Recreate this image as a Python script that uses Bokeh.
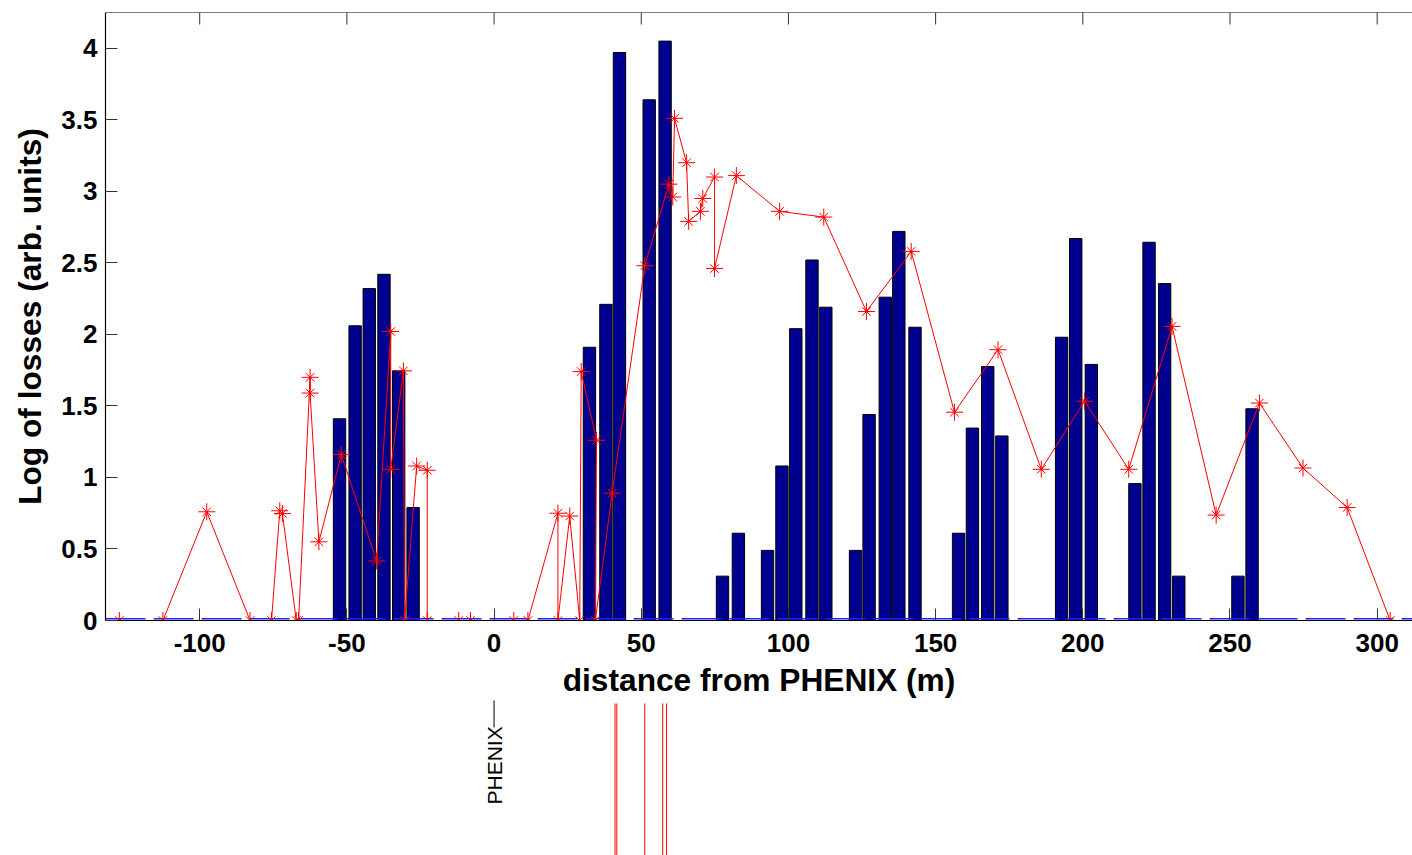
import numpy as np
from bokeh.plotting import figure
from bokeh.models import Range1d, FixedTicker, Span
from bokeh.layouts import column
from bokeh.embed import file_html
from bokeh.resources import INLINE
from bokeh.core.properties import value

# ---------------- data ----------------
bar_pos = [-52.5, -47.2, -42.4, -37.4, -32.4, -27.5,
           32.4, 38.0, 42.6, 52.7, 58.1,
           77.6, 83.0, 92.9, 97.8, 102.5, 108.0, 112.7,
           122.8, 127.4, 132.9, 137.5, 143.0,
           157.8, 162.5, 167.7, 172.5,
           192.8, 197.6, 202.9,
           217.7, 222.5, 227.8, 232.6,
           252.7, 257.5]
bar_val = [1.41, 2.06, 2.32, 2.42, 1.745, 0.79,
           1.91, 2.21, 3.97, 3.64, 4.05,
           0.31, 0.61, 0.49, 1.08, 2.04, 2.52, 2.19,
           0.49, 1.44, 2.26, 2.72, 2.05,
           0.61, 1.345, 1.775, 1.29,
           1.98, 2.67, 1.79,
           0.957, 2.644, 2.355, 0.31,
           0.31, 1.48]

loss_pos = [-127.3, -112.5, -97.6, -82.9, -75.6, -72.8, -71.9, -67.2, -66.4,
            -62.5, -62.5, -59.5, -51.9, -39.9, -35.1, -35.1, -30.8, -30.4,
            -26.3, -22.7, -22.7, -12.0, -8.0, 6.7, 11.5, 21.7, 21.7, 25.7,
            29.1, 29.6, 34.8, 34.4, 40.1, 51.2, 59.4, 60.7, 61.3, 65.4, 66.1,
            70.1, 70.9, 74.9, 74.9, 82.3, 97.0, 112.0, 126.5, 141.7, 156.4,
            171.2, 185.9, 200.6, 215.6, 230.3, 245.3, 260.0, 274.8, 289.8, 304.4]
loss_val = [0, 0, 0.76, 0, 0, 0.767, 0.748, 0, 0,
            1.70, 1.59, 0.55, 1.16, 0.416, 2.02, 1.057, 1.745, 0,
            1.08, 1.05, 0, 0, 0, 0, 0, 0.75, 0, 0.73,
            0, 1.74, 1.26, 0, 0.89, 2.48, 3.05, 2.96, 3.51, 3.20, 2.79,
            2.86, 2.95, 3.10, 2.46, 3.11, 2.86, 2.82, 2.16, 2.58, 1.456,
            1.893, 1.057, 1.533, 1.057, 2.056, 0.737, 1.52, 1.066, 0.79, 0]

marker_pos = [41.1, 41.7, 51.2, 57.3, 58.6]
phenix_pos = [0]
phenix_label = ["PHENIX"]

x_ticks = [-100, -50, 0, 50, 100, 150, 200, 250, 300]
x_tick_labels = ["-100", "-50", "0", "50", "100", "150", "200", "250", "300"]
y_ticks = [0, 0.5, 1, 1.5, 2, 2.5, 3, 3.5, 4]
y_tick_labels = ["0", "0.5", "1", "1.5", "2", "2.5", "3", "3.5", "4"]

X_START, X_END = -132, 312
Y_START, Y_END = 0, 4.25
FONT = "Liberation Sans"

# ---------------- main plot ----------------
p = figure(width=1412, height=700,
           x_range=Range1d(X_START, X_END), y_range=Range1d(Y_START, Y_END),
           output_backend="svg", toolbar_location=None,
           min_border_left=105, min_border_right=0,
           min_border_top=12, min_border_bottom=78)
p.outline_line_color = None
p.grid.visible = False
p.background_fill_color = "white"
p.border_fill_color = "white"

p.vbar(x=bar_pos, top=bar_val, bottom=0, width=4.2,
       fill_color="#000090", line_color="black", line_width=1)
p.line(x=[X_START, X_END], y=[0.012, 0.012], line_color="#2020FF",
       line_width=1.5, line_dash="40 8")
p.line(x=loss_pos, y=loss_val, line_color="red", line_width=1)
# MATLAB-style '*' marker: plus + diagonal cross
p.scatter(x=loss_pos, y=loss_val, marker="cross", size=17,
          line_color="red", line_width=1)
p.scatter(x=loss_pos, y=loss_val, marker="x", size=12,
          line_color="red", line_width=1)

# top frame line and inward ticks (box on)
p.add_layout(Span(location=Y_END, dimension="width",
                  line_color="black", line_width=1.2))
p.ray(x=x_ticks, y=[Y_END] * len(x_ticks), length=12, length_units="screen",
      angle=-np.pi / 2, line_color="#333333", line_width=1)

for ax in (p.xaxis[0], p.yaxis[0]):
    ax.major_tick_in = 12
    ax.major_tick_out = 0
    ax.minor_tick_line_color = None
    ax.axis_line_color = "black"
    ax.axis_line_width = 1.2
    ax.major_tick_line_color = "#333333"
    ax.major_label_text_font = FONT
    ax.major_label_text_font_style = "bold"
    ax.major_label_text_font_size = "26px"
    ax.major_label_text_color = "black"
    ax.axis_label_text_font = FONT
    ax.axis_label_text_font_style = "bold"
    ax.axis_label_text_font_size = "31.7px"
    ax.axis_label_text_color = "black"

p.xaxis.ticker = FixedTicker(ticks=x_ticks)
p.xaxis.major_label_overrides = dict(zip(x_ticks, x_tick_labels))
p.xaxis.axis_label = "distance from PHENIX (m)"
p.xaxis.major_label_standoff = 13
p.xaxis.axis_label_standoff = 7

p.yaxis.ticker = FixedTicker(ticks=y_ticks)
p.yaxis.major_label_overrides = dict(zip(y_ticks, y_tick_labels))
p.yaxis.axis_label = "Log of losses (arb. units)"
p.yaxis.major_label_standoff = 8
p.yaxis.axis_label_standoff = 10

# ---------------- lower strip (element positions) ----------------
q = figure(width=1412, height=155, x_range=p.x_range, y_range=Range1d(0, 155),
           output_backend="svg", toolbar_location=None,
           min_border_left=105, min_border_right=0,
           min_border_top=0, min_border_bottom=0,
           x_axis_location=None, y_axis_location=None)
q.outline_line_color = None
q.grid.visible = False
q.background_fill_color = "white"
q.border_fill_color = "white"

q.segment(x0=marker_pos, y0=0, x1=marker_pos, y1=152,
          line_color="red", line_width=1)
q.segment(x0=phenix_pos, y0=128, x1=phenix_pos, y1=160,
          line_color="#555555", line_width=1.5)
q.text(x=phenix_pos, y=[51], text=phenix_label, angle=np.pi / 2,
       text_align="left", text_baseline="middle",
       text_font=value(FONT), text_font_size="21px", text_color="black")

layout = column(p, q, spacing=0)
open("out.html", "w").write(file_html(layout, INLINE))
